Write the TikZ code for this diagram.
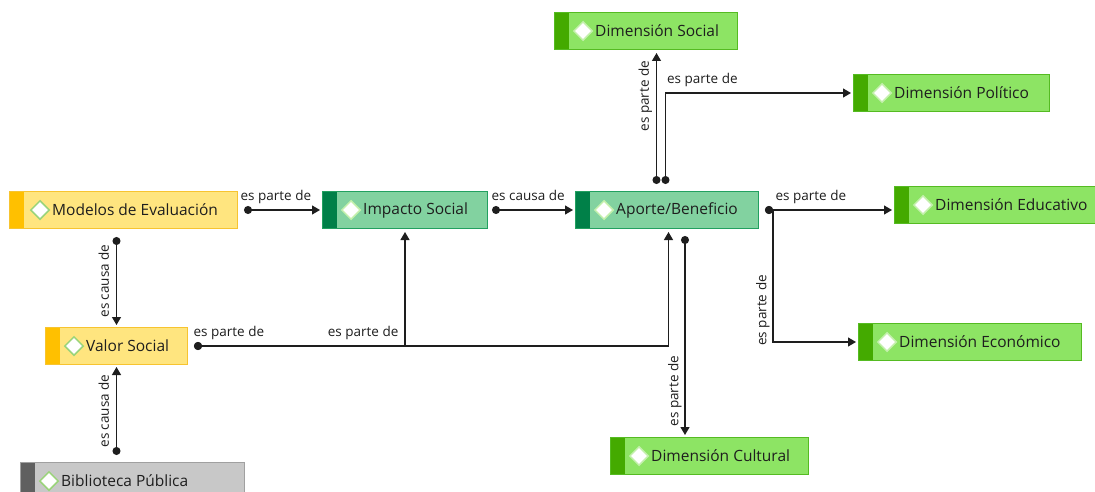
\documentclass[tikz,border=0pt]{standalone}
\usepackage{fontspec}
\setmainfont{Open Sans}
\usetikzlibrary{arrows.meta,shapes.geometric,calc}
\definecolor{cYbar}{HTML}{FFC000}
\definecolor{cYfill}{HTML}{FFE57F}
\definecolor{cYline}{HTML}{F7C430}
\definecolor{cMbar}{HTML}{008048}
\definecolor{cMfill}{HTML}{82D2A0}
\definecolor{cMline}{HTML}{22A060}
\definecolor{cLbar}{HTML}{44AA00}
\definecolor{cLfill}{HTML}{8DE464}
\definecolor{cLline}{HTML}{55BB22}
\definecolor{cGbar}{HTML}{606060}
\definecolor{cGfill}{HTML}{C8C8C8}
\definecolor{cGline}{HTML}{A0A0A0}
\definecolor{cDline}{HTML}{9AD47A}
\definecolor{cDlight}{HTML}{C4F0AC}
\definecolor{ink}{HTML}{1E1E1E}
\tikzset{
  cbox/.style n args={3}{draw=#3, fill=#2, line width=1pt, minimum height=37pt,
    inner sep=0pt, anchor=north west,
    path picture={\fill[fill=#1] (path picture bounding box.north west) rectangle
      ([xshift=14pt]path picture bounding box.south west);}},
  ybox/.style={cbox={cYbar}{cYfill}{cYline}},
  mbox/.style={cbox={cMbar}{cMfill}{cMline}},
  lbox/.style={cbox={cLbar}{cLfill}{cLline}},
  gbox/.style={cbox={cGbar}{cGfill}{cGline}},
  dia/.style={diamond, draw=#1, fill=white, line width=1.5pt, minimum size=19pt, inner sep=0pt},
  btxt/.style={anchor=west, inner sep=0pt, text=ink, font=\fontsize{15.5}{18}\selectfont},
  lbl/.style={inner sep=2pt, text=ink, font=\fontsize{13.5}{16}\selectfont,
    text height=0.72em, text depth=0.2em},
  conn/.style={draw=ink, line width=1.2pt, {Circle[length=8pt]}-{Triangle[length=8pt,width=9pt]}},
}
\begin{document}
\begin{tikzpicture}[x=1pt,y=-1pt]
\useasboundingbox (0,0) rectangle (1095,492);
% boxes
\node[ybox, minimum width=228pt] (mod) at (9,191) {};
\node[dia=cDline] (modd) at ($(mod.west)+(31,0)$) {};
\node[btxt] (modt) at ($(mod.west)+(43,0)$) {Modelos de Evaluación};

\node[mbox, minimum width=165pt] (imp) at (322,191) {};
\node[dia=cDlight] (impd) at ($(imp.west)+(29,0)$) {};
\node[btxt] (impt) at ($(imp.west)+(41,0)$) {Impacto Social};

\node[mbox, minimum width=183pt] (apo) at (575,191) {};
\node[dia=cDlight] (apod) at ($(apo.west)+(29,0)$) {};
\node[btxt] (apot) at ($(apo.west)+(41,0)$) {Aporte/Beneficio};

\node[ybox, minimum width=142pt] (val) at (45,327) {};
\node[dia=cDline] (vald) at ($(val.west)+(29,0)$) {};
\node[btxt] (valt) at ($(val.west)+(41,0)$) {Valor Social};

\node[gbox, minimum width=224pt] (bib) at (20,462) {};
\node[dia=cDline] (bibd) at ($(bib.west)+(29,0)$) {};
\node[btxt] (bibt) at ($(bib.west)+(41,0)$) {Biblioteca Pública};

\node[lbox, minimum width=183pt] (soc) at (554,12) {};
\node[dia=cDlight] (socd) at ($(soc.west)+(29,0)$) {};
\node[btxt] (soct) at ($(soc.west)+(41,0)$) {Dimensión Social};

\node[lbox, minimum width=196pt] (pol) at (853,74) {};
\node[dia=cDlight] (pold) at ($(pol.west)+(29,0)$) {};
\node[btxt] (polt) at ($(pol.west)+(41,0)$) {Dimensión Político};

\node[lbox, minimum width=215pt] (edu) at (894,186) {};
\node[dia=cDlight] (edud) at ($(edu.west)+(29,0)$) {};
\node[btxt] (edut) at ($(edu.west)+(41,0)$) {Dimensión Educativo};

\node[lbox, minimum width=223pt] (eco) at (858,323) {};
\node[dia=cDlight] (ecod) at ($(eco.west)+(29,0)$) {};
\node[btxt] (ecot) at ($(eco.west)+(41,0)$) {Dimensión Económico};

\node[lbox, minimum width=198pt] (cul) at (610,437) {};
\node[dia=cDlight] (culd) at ($(cul.west)+(29,0)$) {};
\node[btxt] (cult) at ($(cul.west)+(41,0)$) {Dimensión Cultural};

% connectors
\draw[conn] ([xshift=6pt]mod.east) -- node[lbl, at start, anchor=south west, xshift=-6pt, yshift=5pt] {es parte de} ([xshift=-2pt]imp.west);
\draw[conn] ([xshift=4pt]imp.east) -- node[lbl, at start, anchor=south west, xshift=-3pt, yshift=5pt] {es causa de} ([xshift=-2pt]apo.west);

\coordinate (c1) at ([yshift=-8pt]mod.south -| val.north);
\draw[conn] (c1) -- node[lbl, midway, rotate=90, anchor=south, inner sep=5pt] {es causa de} ([yshift=2pt]val.north);
\coordinate (c2) at ([yshift=7pt]bib.north -| val.south);
\draw[conn] (c2) -- node[lbl, midway, rotate=90, anchor=south, inner sep=5pt] {es causa de} ([yshift=-2pt]val.south);

\draw[conn] ([xshift=6pt]val.east) -| node[lbl, pos=0.5, anchor=south east, xshift=-4pt, yshift=5pt] {es parte de} ([yshift=-3pt]imp.south);
\draw[conn] ([xshift=6pt]val.east) -| node[lbl, at start, anchor=south west, xshift=-3pt, yshift=5pt] {es parte de} ([xshift=1.5pt,yshift=-3pt]apo.south);

\coordinate (c3) at ([xshift=18pt,yshift=-7pt]apo.south);
\draw[conn] (c3) -- node[lbl, pos=0.78, rotate=90, anchor=south, inner sep=4pt] {es parte de} ([yshift=2pt]c3 |- cul.north);

\coordinate (c4) at ([xshift=-10.5pt,yshift=7pt]apo.north);
\draw[conn] (c4) -- node[lbl, pos=0.67, rotate=90, anchor=south, inner sep=5pt] {es parte de} ([yshift=-3pt]c4 |- soc.south);
\coordinate (c5) at ([xshift=-1.5pt,yshift=7pt]apo.north);
\draw[conn] (c5) |- node[lbl, pos=0.5, anchor=south west, xshift=-1pt, yshift=5pt] {es parte de} ([xshift=-2pt]pol.west);

\draw[conn] ([xshift=6pt]apo.east) -- node[lbl, at start, anchor=south west, xshift=8pt, yshift=5pt] {es parte de} ([xshift=-2pt]apo.east -| edu.west);
\draw[conn] ([xshift=6pt]apo.east) -- ++(8,0) |- node[lbl, pos=0.38, rotate=90, anchor=south, inner sep=4pt] {es parte de} ([xshift=-2pt]eco.west);
\end{tikzpicture}
\end{document}
